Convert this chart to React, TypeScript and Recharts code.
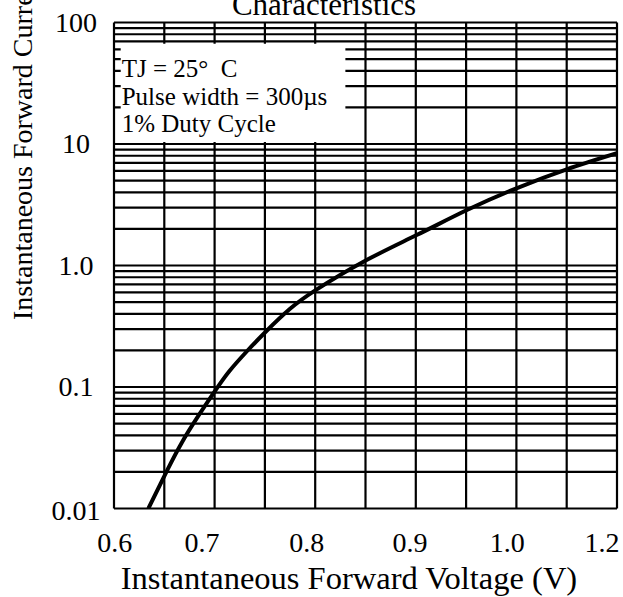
import React from 'react';
import { ComposedChart, Line, XAxis, YAxis, CartesianGrid, ReferenceArea } from 'recharts';

// forward voltage (V) vs instantaneous forward current (A)
const VOLTAGE = [0.641, 0.664, 0.681, 0.7, 0.722, 0.738, 0.758, 0.781, 0.81, 0.841, 0.897, 0.961, 1.021, 1.08, 1.14, 1.2];
const CURRENT = [0.01, 0.021, 0.035, 0.057, 0.096, 0.136, 0.195, 0.285, 0.44, 0.63, 1.07, 1.78, 2.86, 4.32, 6.19, 8.4];

// grid divisions (the sheet uses 10 vertical divisions over 0.6..1.2 V)
const X_GRID = [0.6, 0.66, 0.72, 0.78, 0.84, 0.9, 0.96, 1.02, 1.08, 1.14, 1.2];
const Y_GRID = [
  0.01, 0.02, 0.03, 0.04, 0.05, 0.06, 0.07, 0.08, 0.09,
  0.1, 0.2, 0.3, 0.4, 0.5, 0.6, 0.7, 0.8, 0.9,
  1, 2, 3, 4, 5, 6, 7, 8, 9,
  10, 20, 30, 40, 50, 60, 70, 80, 90,
  100,
];

// tick labels, and where the original sheet printed them along the voltage axis
const X_LABELS = ['0.6', '0.7', '0.8', '0.9', '1.0', '1.2'];
const X_LABEL_AT = [0.601, 0.705, 0.83, 0.953, 1.069, 1.182];
const Y_LABELS = ['0.01', '0.1', '1.0', '10', '100'];
const Y_LABEL_AT = [0.01, 0.1, 1, 10, 100];

const NOTE_LINES = ['TJ = 25°\u00a0 C', 'Pulse width = 300µs', '1% Duty Cycle'];

const FONT = '"Liberation Serif", "Times New Roman", serif';

const data = VOLTAGE.map((v, i) => ({ v, i: CURRENT[i] }));

const YTick = (props: any) => {
  const idx = Y_LABEL_AT.indexOf(props.payload.value);
  if (idx < 0) return <g />;
  const dy = idx === 0 ? 11 : 9;
  return (
    <text x={76} y={props.y + dy} textAnchor="middle" fontFamily={FONT} fontSize={28} fill="#000">
      {Y_LABELS[idx]}
    </text>
  );
};

const XTick = (props: any) => (
  <text x={props.x} y={props.y + 42} textAnchor="middle" fontFamily={FONT} fontSize={28} fill="#000">
    {X_LABELS[props.index]}
  </text>
);

const NoTick = () => <g />;

const NoteLabel = (props: any) => {
  const vb = props.viewBox || {};
  return (
    <g>
      {NOTE_LINES.map((t, i) => (
        <text key={i} x={vb.x + 1} y={vb.y + 33.5 + i * 27.5} fontFamily={FONT} fontSize={25} fill="#000">
          {t}
        </text>
      ))}
    </g>
  );
};

export default function App() {
  return (
    <div style={{ position: 'absolute', left: 0, top: 0, width: 623, height: 597, background: '#fff' }}>
      <ComposedChart
        width={623}
        height={597}
        data={data}
        margin={{ top: 22.5, right: 6, bottom: 0, left: 0 }}
      >
        <CartesianGrid stroke="#000" strokeWidth={2.2} xAxisId={0} yAxisId={0} />
        <XAxis
          xAxisId={0}
          dataKey="v"
          type="number"
          domain={[0.6, 1.2]}
          ticks={X_GRID}
          interval={0}
          height={1}
          tick={<NoTick />}
          axisLine={false}
          tickLine={false}
          allowDataOverflow
        />
        <XAxis
          xAxisId="lab"
          dataKey="v"
          type="number"
          domain={[0.6, 1.2]}
          ticks={X_LABEL_AT}
          interval={0}
          height={87.5}
          tickSize={0}
          tickMargin={0}
          tick={<XTick />}
          axisLine={false}
          tickLine={false}
          allowDataOverflow
        />
        <YAxis
          yAxisId={0}
          type="number"
          scale="log"
          domain={[0.01, 100]}
          ticks={Y_GRID}
          interval={0}
          width={114}
          tickSize={0}
          tickMargin={0}
          tick={<YTick />}
          axisLine={false}
          tickLine={false}
          allowDataOverflow
        />
        <ReferenceArea
          xAxisId={0}
          yAxisId={0}
          x1={0.608}
          x2={0.876}
          y1={10.4}
          y2={67}
          fill="#fff"
          fillOpacity={1}
          stroke="none"
          ifOverflow="visible"
          label={<NoteLabel />}
        />
        <Line
          xAxisId={0}
          yAxisId={0}
          dataKey="i"
          type="natural"
          stroke="#000"
          strokeWidth={4}
          dot={false}
          activeDot={false}
          isAnimationActive={false}
        />
      </ComposedChart>
      <svg
        width={623}
        height={597}
        style={{ position: 'absolute', left: 0, top: 0, pointerEvents: 'none' }}
      >
        <text x={324} y={15} textAnchor="middle" fontFamily={FONT} fontSize={31} fill="#000">
          Characteristics
        </text>
        <text
          transform="translate(32, 320) rotate(-90)"
          textAnchor="start"
          fontFamily={FONT}
          fontSize={28}
          fill="#000"
        >
          Instantaneous Forward Current
        </text>
        <text x={349} y={589} textAnchor="middle" fontFamily={FONT} fontSize={32.5} fill="#000">
          Instantaneous Forward Voltage (V)
        </text>
      </svg>
    </div>
  );
}
